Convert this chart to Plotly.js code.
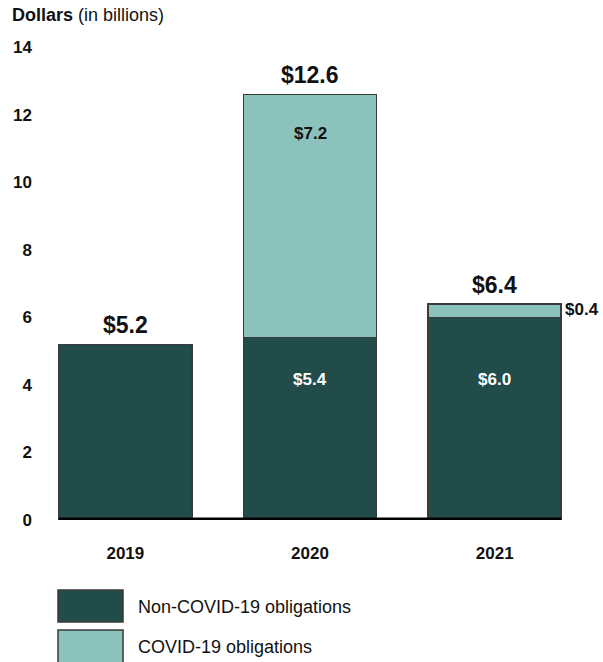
<!DOCTYPE html>
<html>
<head>
<meta charset="utf-8">
<script src="https://cdn.plot.ly/plotly-3.0.1.min.js"></script>
<style>html,body{margin:0;padding:0;background:#fff;}#chart{width:603px;height:662px;}</style>
</head>
<body>
<div id="chart"></div>
<script>
const years = ['2019', '2020', '2021'];
const nonCovid = [5.2, 5.4, 6.0];
const covid = [null, 7.2, 0.4];
const totals = [5.2, 12.6, 6.4];
const seriesNames = ['Non-COVID-19 obligations', 'COVID-19 obligations'];
const yTicks = [0, 2, 4, 6, 8, 10, 12, 14];

const darkColor = '#224c4a';
const lightColor = '#8cc2bc';
const edge = '#3a3a3a';
const FONT = 'Liberation Sans, Arial, sans-serif';
const fmt = v => '$' + v.toFixed(1);

const traces = [
  {type: 'bar', x: years, y: nonCovid, name: seriesNames[0],
   marker: {color: darkColor, line: {color: edge, width: 1.5}}, hoverinfo: 'skip'},
  {type: 'bar', x: years, y: covid, name: seriesNames[1],
   marker: {color: lightColor, line: {color: edge, width: 1.5}}, hoverinfo: 'skip'}
];

const annotations = [];
annotations.push({xref: 'paper', yref: 'paper', x: -0.042, y: 1.068, xanchor: 'left', yanchor: 'middle',
  text: '<b>Dollars</b> (in billions)', showarrow: false, font: {family: FONT, size: 18, color: '#111'}});

years.forEach((yr, i) => {
  annotations.push({xref: 'x', yref: 'y', x: i, y: totals[i], yanchor: 'bottom', yshift: 4,
    text: '<b>' + fmt(totals[i]) + '</b>', showarrow: false, font: {family: FONT, size: 23, color: '#111'}});
  if (covid[i] !== null && covid[i] > 0) {
    annotations.push({xref: 'x', yref: 'y', x: i, y: 4.15, yanchor: 'middle', text: '<b>' + fmt(nonCovid[i]) + '</b>',
      showarrow: false, font: {family: FONT, size: 17, color: '#ffffff'}});
    if (covid[i] >= 1) {
      annotations.push({xref: 'x', yref: 'y', x: i, y: totals[i] - 1.15, yanchor: 'middle', text: '<b>' + fmt(covid[i]) + '</b>',
        showarrow: false, font: {family: FONT, size: 17, color: '#111'}});
    } else {
      annotations.push({xref: 'x', yref: 'y', x: i + 0.36, y: nonCovid[i] + covid[i] / 2 + 0.02, xanchor: 'left', yanchor: 'middle', xshift: 2,
        text: '<b>' + fmt(covid[i]) + '</b>', showarrow: false, font: {family: FONT, size: 17, color: '#111'}});
    }
  }
});

const shapes = [
  {type: 'line', xref: 'x', yref: 'y', x0: -0.36, x1: 2.36, y0: 0, y1: 0, line: {color: '#000', width: 5}},
  {type: 'rect', xref: 'paper', yref: 'paper', x0: 0.0451, x1: 0.1625, y0: -0.2156, y1: -0.148,
   fillcolor: darkColor, line: {color: edge, width: 1.5}},
  {type: 'rect', xref: 'paper', yref: 'paper', x0: 0.0451, x1: 0.1625, y0: -0.31, y1: -0.2326,
   fillcolor: lightColor, line: {color: edge, width: 1.5}}
];
annotations.push({xref: 'paper', yref: 'paper', x: 0.186, y: -0.184, xanchor: 'left', yanchor: 'middle',
  text: seriesNames[0], showarrow: false, font: {family: FONT, size: 18, color: '#111'}});
annotations.push({xref: 'paper', yref: 'paper', x: 0.186, y: -0.2685, xanchor: 'left', yanchor: 'middle',
  text: seriesNames[1], showarrow: false, font: {family: FONT, size: 18, color: '#111'}});

const layout = {
  width: 603, height: 662,
  margin: {l: 33, r: 16, t: 47, b: 142},
  paper_bgcolor: '#fff', plot_bgcolor: '#fff',
  barmode: 'stack', bargap: 0.28,
  showlegend: false,
  font: {family: FONT, color: '#111'},
  xaxis: {type: 'category', range: [-0.5, 2.5], showgrid: false, zeroline: false, showline: false,
    ticks: 'outside', ticklen: 18, tickcolor: 'rgba(0,0,0,0)',
    tickfont: {family: FONT, size: 17, weight: 'bold', color: '#111'}},
  yaxis: {range: [0, 14], tickvals: yTicks, ticktext: yTicks.map(String), showgrid: false, zeroline: false,
    showline: false, ticks: '', tickfont: {family: FONT, size: 17, weight: 'bold', color: '#111'}},
  shapes: shapes,
  annotations: annotations
};

Plotly.newPlot('chart', traces, layout, {displayModeBar: false, staticPlot: true});
</script>
</body>
</html>
